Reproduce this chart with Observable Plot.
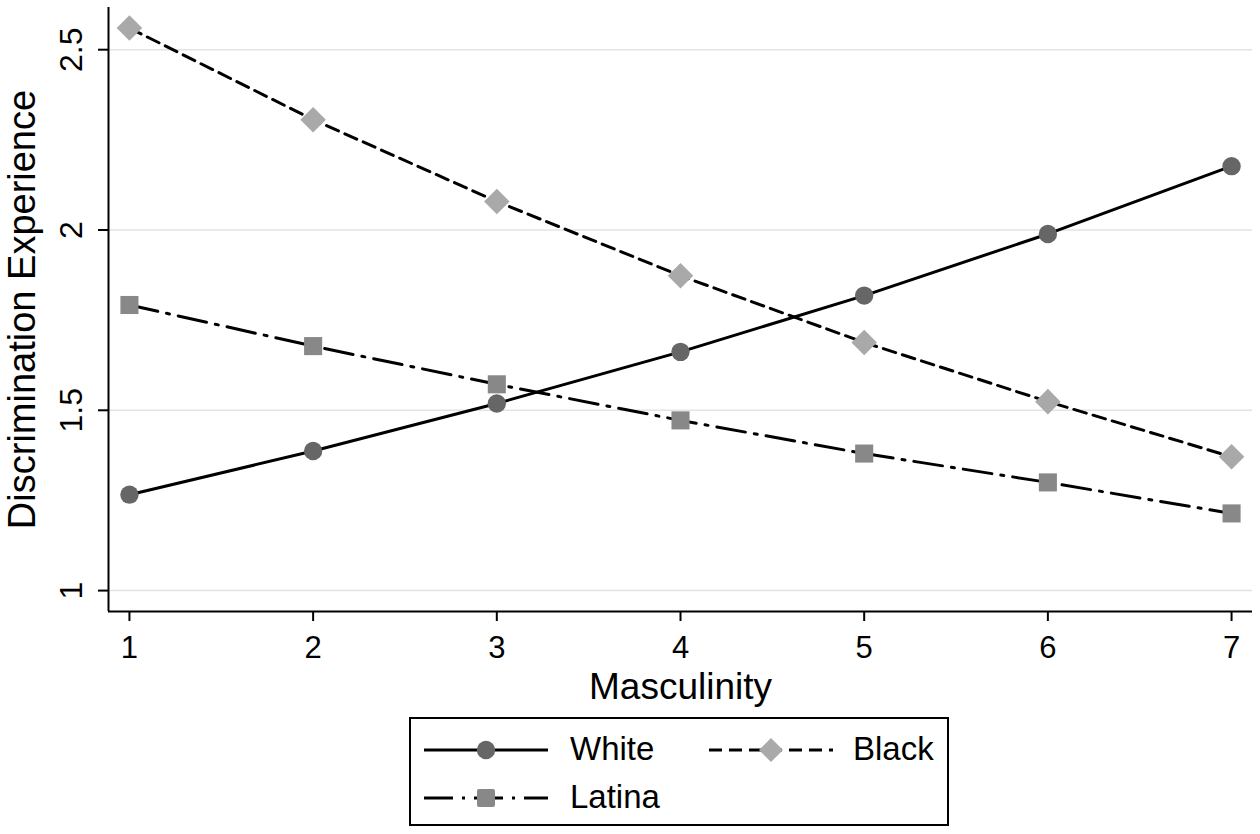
<!DOCTYPE html>
<html>
<head>
<meta charset="utf-8">
<script src="https://cdn.jsdelivr.net/npm/d3@7"></script>
<script src="https://cdn.jsdelivr.net/npm/@observablehq/plot@0.6"></script>
<style>
  html, body { margin: 0; padding: 0; background: #fff; }
  #wrap { position: relative; width: 1260px; height: 834px; font-family: "Liberation Sans", Arial, Helvetica, sans-serif; }
  #legend { position: absolute; left: 409px; top: 717px; width: 540px; height: 109px; box-sizing: border-box; border: 2px solid #000; background: #fff; }
  #legend .sw { position: absolute; }
  #legend .lab { position: absolute; font-size: 33px; line-height: 33px; color: #000; }
</style>
</head>
<body>
<div id="wrap"></div>
<script>
// ---- data ----
const masculinity = [1, 2, 3, 4, 5, 6, 7];
const white  = [1.266, 1.387, 1.519, 1.662, 1.818, 1.989, 2.177];
const black  = [2.560, 2.306, 2.079, 1.873, 1.688, 1.524, 1.371];
const latina = [1.792, 1.678, 1.572, 1.472, 1.380, 1.300, 1.214];
const seriesNames = ["White", "Black", "Latina"];
const xTicks = [1, 2, 3, 4, 5, 6, 7];
const yTicks = [1, 1.5, 2, 2.5];
const xDomain = [0.886, 7.114];
const yDomain = [0.942, 2.617];
const xTitle = "Masculinity";
const yTitle = "Discrimination Experience";

const rows = (vals, name) => masculinity.map((m, i) => ({x: m, y: vals[i], series: name}));
const dWhite = rows(white, "White");
const dBlack = rows(black, "Black");
const dLatina = rows(latina, "Latina");

const styles = {
  White:  {dash: null,        symbol: "circle",   fill: "#666666", r: 9.2},
  Black:  {dash: "13,7",      symbol: "diamond2", fill: "#a9a9a9", r: 11.5},
  Latina: {dash: "29,9,3,9",  symbol: "square",   fill: "#888888", r: 10.2}
};

const font = "'Liberation Sans', Arial, Helvetica, sans-serif";

const chart = Plot.plot({
  width: 1260,
  height: 834,
  marginLeft: 108,
  marginRight: 8,
  marginTop: 7,
  marginBottom: 223,
  style: {fontFamily: font, fontSize: "31px", color: "#000", background: "#fff"},
  x: {domain: xDomain},
  y: {domain: yDomain},
  marks: [
    Plot.gridY(yTicks, {stroke: "#e3e3e3", strokeOpacity: 1, strokeWidth: 1.5}),
    Plot.axisY(yTicks, {tickSize: 10, strokeWidth: 2, tickFormat: () => "", label: null}),
    Plot.text(yTicks, {y: d => d, text: d => String(d), frameAnchor: "left", dx: -27, rotate: -90, lineAnchor: "bottom", textAnchor: "middle", fontSize: 32, fill: "#000"}),
    Plot.axisX(xTicks, {tickSize: 10, strokeWidth: 2, tickPadding: 14, fontSize: 31, label: null, tickFormat: d => String(d)}),
    Plot.ruleX([xDomain[0]], {stroke: "#000", strokeWidth: 2}),
    Plot.ruleY([yDomain[0]], {stroke: "#000", strokeWidth: 2}),
    Plot.text([xTitle], {text: d => d, frameAnchor: "bottom", dy: 87, lineAnchor: "bottom", fontSize: 37, fill: "#000"}),
    Plot.text([yTitle], {text: d => d, frameAnchor: "left", dx: -74, rotate: -90, lineAnchor: "bottom", textAnchor: "middle", fontSize: 38, fill: "#000"}),
    ...[["White", dWhite], ["Black", dBlack], ["Latina", dLatina]].flatMap(([name, data]) => [
      Plot.line(data, {x: "x", y: "y", stroke: "#000", strokeWidth: 3, strokeDasharray: styles[name].dash || undefined}),
      Plot.dot(data, {x: "x", y: "y", symbol: () => styles[name].symbol, fill: styles[name].fill, stroke: "none", r: styles[name].r})
    ])
  ]
});

const wrap = document.getElementById("wrap");
wrap.appendChild(chart);

// ---- legend (HTML, below the plotting frame) ----
function swatch(name) {
  const s = styles[name];
  const w = 124, h = 30, cy = 15, cx = 62;
  let sym = "";
  if (s.symbol === "circle") sym = `<circle cx="${cx}" cy="${cy}" r="${s.r}" fill="${s.fill}"/>`;
  if (s.symbol === "square") { const a = 9; sym = `<rect x="${cx - a}" y="${cy - a}" width="${2 * a}" height="${2 * a}" rx="2" fill="${s.fill}"/>`; }
  if (s.symbol === "diamond2") { const a = 12; sym = `<path d="M${cx},${cy - a}L${cx + a},${cy}L${cx},${cy + a}L${cx - a},${cy}Z" fill="${s.fill}"/>`; }
  const dash = s.dash ? `stroke-dasharray="${s.dash}"` : "";
  return `<svg width="${w}" height="${h}" viewBox="0 0 ${w} ${h}"><line x1="0" y1="${cy}" x2="${w}" y2="${cy}" stroke="#000" stroke-width="3" ${dash}/>${sym}</svg>`;
}
const legend = document.createElement("div");
legend.id = "legend";
const entries = [
  {name: seriesNames[0], sx: 13, tx: 159, cy: 31},
  {name: seriesNames[1], sx: 298, tx: 442, cy: 31},
  {name: seriesNames[2], sx: 13, tx: 159, cy: 79}
];
legend.innerHTML = entries.map(e =>
  `<div class="sw" style="left:${e.sx}px;top:${e.cy - 15}px">${swatch(e.name)}</div>` +
  `<div class="lab" style="left:${e.tx}px;top:${e.cy - 18}px">${e.name}</div>`
).join("");
wrap.appendChild(legend);
</script>
</body>
</html>
